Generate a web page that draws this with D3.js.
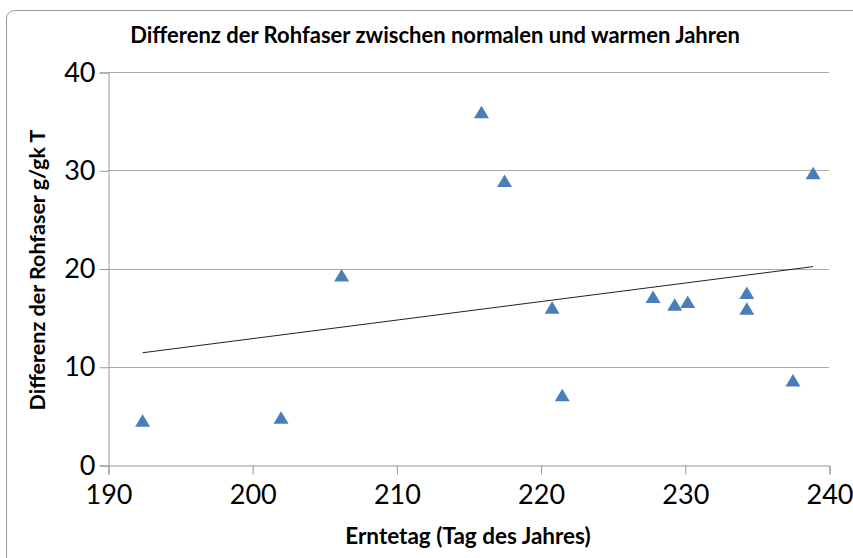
<!DOCTYPE html>
<html>
<head>
<meta charset="utf-8">
<script src="https://cdn.jsdelivr.net/npm/d3@7"></script>
<style>
  body { margin: 0; background: #fff; }
  text { font-family: Lato, "Open Sans", sans-serif; fill: #000; }
</style>
</head>
<body>
<svg id="chart" width="853" height="558"></svg>
<script>
// Erntetag (day of year) and difference in crude fibre
const days = [192.4, 202.0, 206.2, 215.9, 217.5, 220.8, 221.5, 227.8, 229.3, 230.2, 234.3, 234.3, 237.5, 238.9];
const diffs = [4.5, 4.8, 19.3, 35.9, 28.9, 16.0, 7.1, 17.1, 16.3, 16.6, 17.5, 15.9, 8.6, 29.7];
const xTicks = [190, 200, 210, 220, 230, 240];
const yTicks = [0, 10, 20, 30, 40];

const points = days.map((d, i) => ({x: d, y: diffs[i]}));

const svg = d3.select("#chart");

const x = d3.scaleLinear().domain([190, 240]).range([108, 829]);
const y = d3.scaleLinear().domain([0, 40]).range([465, 72]);

// outer chart border
svg.append("rect")
    .attr("x", 6.5).attr("y", 10.5)
    .attr("width", 870).attr("height", 570)
    .attr("rx", 8)
    .attr("fill", "none")
    .attr("stroke", "#9a9a9a")
    .attr("stroke-width", 1);

svg.append("text")
    .attr("x", 435).attr("y", 43)
    .attr("text-anchor", "middle")
    .attr("font-weight", "bold")
    .attr("font-size", 22)
    .text("Differenz der Rohfaser zwischen normalen und warmen Jahren");

// gridlines
svg.append("g")
    .selectAll("line")
    .data(yTicks.filter(t => t > 0))
    .enter()
    .append("line")
    .attr("x1", 108).attr("x2", 829)
    .attr("y1", d => Math.round(y(d)) + 0.5)
    .attr("y2", d => Math.round(y(d)) + 0.5)
    .attr("stroke", "#aaaaaa");

// y axis
const yAxis = svg.append("g")
    .attr("transform", "translate(108.5,0.5)")
    .call(d3.axisLeft(y).tickValues(yTicks).tickSize(9).tickPadding(4).tickFormat(d3.format("d")));
yAxis.select(".domain").attr("stroke", "#999999");
yAxis.selectAll(".tick line").attr("stroke", "#999999");
yAxis.selectAll("text").attr("font-size", 27).attr("font-family", "Lato, sans-serif").attr("fill", "#000");

// x axis
const xAxis = svg.append("g")
    .attr("transform", "translate(0.5,465.5)")
    .call(d3.axisBottom(x).tickValues(xTicks).tickSize(9).tickPadding(10).tickFormat(d3.format("d")));
xAxis.select(".domain").attr("stroke", "#999999");
xAxis.selectAll(".tick line").attr("stroke", "#999999");
xAxis.selectAll("text").attr("font-size", 27).attr("font-family", "Lato, sans-serif").attr("fill", "#000");

// linear trendline
const mx = d3.mean(points, d => d.x);
const my = d3.mean(points, d => d.y);
const slope = d3.sum(points, d => (d.x - mx) * (d.y - my)) / d3.sum(points, d => (d.x - mx) ** 2);
const fit = v => my + slope * (v - mx);
const xMin = d3.min(days), xMax = d3.max(days);

svg.append("line")
    .attr("x1", x(xMin)).attr("y1", y(fit(xMin)))
    .attr("x2", x(xMax)).attr("y2", y(fit(xMax)))
    .attr("stroke", "#222")
    .attr("stroke-width", 1);

// triangle markers, centred on their bounding box
svg.append("g")
    .selectAll("path")
    .data(points)
    .enter()
    .append("path")
    .attr("d", "M0,-6.5L7.5,6L-7.5,6Z")
    .attr("transform", d => `translate(${x(d.x)},${y(d.y)})`)
    .attr("fill", "#4a7ebb");

// axis titles
svg.append("text")
    .attr("x", 468).attr("y", 544)
    .attr("text-anchor", "middle")
    .attr("font-weight", "bold")
    .attr("font-size", 22.5)
    .text("Erntetag (Tag des Jahres)");

svg.append("text")
    .attr("transform", "translate(45,270) rotate(-90)")
    .attr("text-anchor", "middle")
    .attr("font-weight", "bold")
    .attr("font-size", 21.5)
    .text("Differenz der Rohfaser g/gk T");
</script>
</body>
</html>
